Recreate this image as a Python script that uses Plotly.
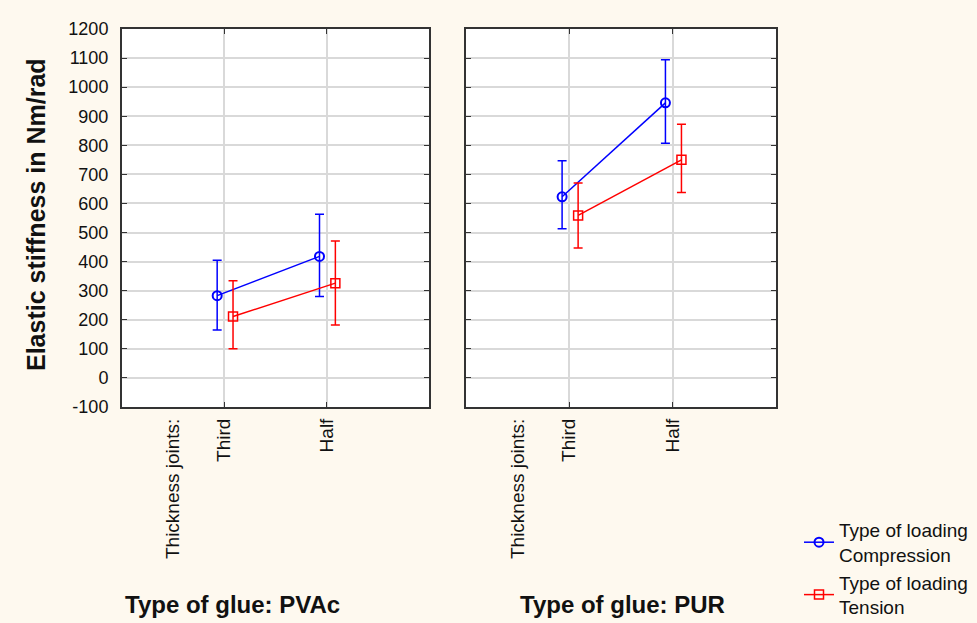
import plotly.graph_objects as go

# ---- data ----
categories = ["Third", "Half"]
glue_types = ["PVAc", "PUR"]

comp_mean_pvac = [283, 418]
comp_low_pvac = [165, 280]
comp_high_pvac = [405, 563]

tens_mean_pvac = [211, 326]
tens_low_pvac = [100, 182]
tens_high_pvac = [334, 471]

comp_mean_pur = [623, 946]
comp_low_pur = [513, 807]
comp_high_pur = [747, 1094]

tens_mean_pur = [559, 750]
tens_low_pur = [447, 638]
tens_high_pur = [670, 872]

y_ticks = list(range(-100, 1300, 100))
y_tick_labels = [str(v) for v in y_ticks]

# ---- styling ----
BG = "#FEF9EF"
BLUE = "#0000FF"
RED = "#FF0000"
GRID = "#D9D9D9"
BORDER = "#333333"
TXT = "#111111"
FONT = "Liberation Sans, Arial, sans-serif"
W, H = 977, 623

def px_x(p):
    return p / W

def px_y(p):
    return 1 - p / H

dodge = {"comp": -0.07, "tens": 0.085}
xpos = [i + 1 for i in range(len(categories))]

fig = go.Figure()

panels = [
    ("x", "y", comp_mean_pvac, comp_low_pvac, comp_high_pvac,
     tens_mean_pvac, tens_low_pvac, tens_high_pvac, True),
    ("x2", "y2", comp_mean_pur, comp_low_pur, comp_high_pur,
     tens_mean_pur, tens_low_pur, tens_high_pur, False),
]

for xa, ya, cm, cl, ch, tm, tl, th, show in panels:
    fig.add_trace(go.Scatter(
        x=[v + dodge["comp"] for v in xpos], y=cm,
        xaxis=xa, yaxis=ya,
        mode="lines+markers",
        name="Type of loading<br>Compression",
        legendgroup="comp", showlegend=show,
        line=dict(color=BLUE, width=1.5),
        marker=dict(symbol="circle-open", size=9, color=BLUE, line=dict(width=2, color=BLUE)),
        error_y=dict(type="data", symmetric=False,
                     array=[h - m for h, m in zip(ch, cm)],
                     arrayminus=[m - l for m, l in zip(cm, cl)],
                     color=BLUE, thickness=1.5, width=4.5),
    ))
    fig.add_trace(go.Scatter(
        x=[v + dodge["tens"] for v in xpos], y=tm,
        xaxis=xa, yaxis=ya,
        mode="lines+markers",
        name="Type of loading<br>Tension",
        legendgroup="tens", showlegend=show,
        line=dict(color=RED, width=1.5),
        marker=dict(symbol="square-open", size=9, color=RED, line=dict(width=1.5, color=RED)),
        error_y=dict(type="data", symmetric=False,
                     array=[h - m for h, m in zip(th, tm)],
                     arrayminus=[m - l for m, l in zip(tm, tl)],
                     color=RED, thickness=1.5, width=4.5),
    ))

xaxis_common = dict(
    range=[0, 3],
    tickvals=[0.5] + xpos,
    ticktext=["Thickness joints:"] + categories,
    tickangle=-90,
    ticks="",
    ticklabelstandoff=2,
    showgrid=False,
    zeroline=False,
    showline=True, linecolor=BORDER, linewidth=2, mirror="ticks",
    tickfont=dict(family=FONT, size=19, color=TXT),
    minor=dict(tickvals=xpos, showgrid=True, gridcolor=GRID, gridwidth=1.5,
               ticks="inside", ticklen=5, tickcolor=BORDER),
    fixedrange=True,
)
yaxis_common = dict(
    range=[-100, 1200],
    tickvals=y_ticks,
    ticktext=y_tick_labels,
    ticks="inside", ticklen=5, tickcolor=BORDER,
    ticklabelstandoff=8,
    showgrid=True, gridcolor=GRID, gridwidth=1.5,
    zeroline=False,
    showline=True, linecolor=BORDER, linewidth=2, mirror="ticks",
    tickfont=dict(family=FONT, size=18, color=TXT),
    fixedrange=True,
)

y_dom = [px_y(407), px_y(29)]
fig.update_layout(
    width=W, height=H,
    margin=dict(l=0, r=0, t=0, b=0, autoexpand=False),
    paper_bgcolor=BG,
    plot_bgcolor="white",
    xaxis=dict(domain=[px_x(122), px_x(429)], anchor="y", **xaxis_common),
    xaxis2=dict(domain=[px_x(466), px_x(776)], anchor="y2", **xaxis_common),
    yaxis=dict(domain=y_dom, anchor="x", showticklabels=True, **yaxis_common),
    yaxis2=dict(domain=y_dom, anchor="x2", showticklabels=False, **yaxis_common),
    showlegend=True,
    legend=dict(
        x=px_x(799), y=px_y(511), xanchor="left", yanchor="top",
        bgcolor="rgba(0,0,0,0)",
        font=dict(family=FONT, size=19, color=TXT),
        tracegroupgap=0,
    ),
    annotations=[
        dict(text="<b>Elastic stiffness in Nm/rad</b>", textangle=-90,
             xref="paper", yref="paper", x=px_x(36), y=px_y(215),
             xanchor="center", yanchor="middle",
             showarrow=False, font=dict(family=FONT, size=25, color=TXT)),
        dict(text="<b>Type of glue: " + glue_types[0] + "</b>",
             xref="paper", yref="paper", x=px_x(232), y=px_y(604),
             xanchor="center", yanchor="middle",
             showarrow=False, font=dict(family=FONT, size=24, color=TXT)),
        dict(text="<b>Type of glue: " + glue_types[1] + "</b>",
             xref="paper", yref="paper", x=px_x(622), y=px_y(604),
             xanchor="center", yanchor="middle",
             showarrow=False, font=dict(family=FONT, size=24, color=TXT)),
    ],
)

fig.write_html(
    "out.html",
    config={"displayModeBar": False},
    post_script="document.body.style.margin='0px';document.body.style.background='" + BG + "';",
)
